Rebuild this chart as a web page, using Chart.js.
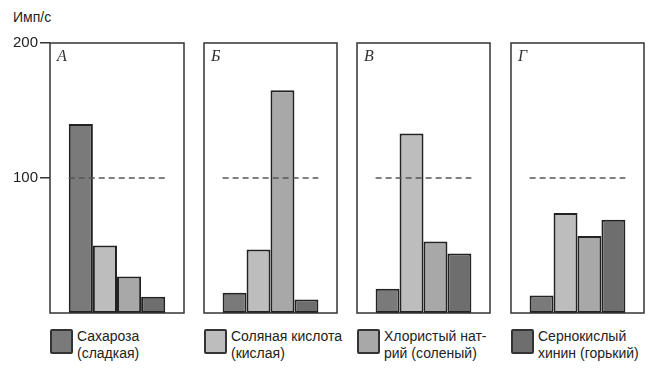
<!DOCTYPE html>
<html>
<head>
<meta charset="utf-8">
<script src="https://cdn.jsdelivr.net/npm/chart.js@4"></script>
<style>
  body { margin: 0; background: #fff; }
  #wrap { position: relative; width: 658px; height: 370px; font-family: 'Liberation Sans', Arial, sans-serif; color: #222; }
  .panel { position: absolute; top: 0; height: 320px; }
  #unit { position: absolute; left: 13px; top: 9px; font-size: 14px; }
  .item { position: absolute; top: 328px; font-size: 14px; line-height: 17px; }
  .sw { position: absolute; left: 0; top: 1px; width: 19px; height: 21px; border: 2px solid #333; border-radius: 2px; }
  .txt { position: absolute; left: 27px; top: 0; white-space: nowrap; }
</style>
</head>
<body>
<div id="wrap">
  <div id="unit">Имп/с</div>
  <div class="panel" style="left:0;width:185px"><canvas id="p0"></canvas></div>
  <div class="panel" style="left:203px;width:135px"><canvas id="p1"></canvas></div>
  <div class="panel" style="left:356px;width:135px"><canvas id="p2"></canvas></div>
  <div class="panel" style="left:510px;width:135px"><canvas id="p3"></canvas></div>
  <div id="legend"></div>
</div>
<script>
// panels (fibres) and stimuli
const panelLabels = ['А', 'Б', 'В', 'Г'];
const stimulusLines = [
    ['Сахароза', '(сладкая)'],
    ['Соляная кислота', '(кислая)'],
    ['Хлористый  нат-', 'рий (соленый)'],
    ['Сернокислый', 'хинин (горький)']
];

// impulses per second, one value per panel
const sucrose = [140, 15, 18, 13];
const hcl = [50, 47, 133, 74];
const nacl = [27, 165, 53, 57];
const quinine = [12, 10, 44, 69];

const yTicks = [100, 200];
const refLevel = 100;

const colors = ['#7a7a7a', '#bdbdbd', '#a8a8a8', '#6e6e6e'];
const legendLeft = [50, 204, 357, 511];

const series = [sucrose, hcl, nacl, quinine];

// box, letter and dashed level line for each panel
const panelPlugin = {
    id: 'panelBox',
    afterDatasetsDraw(chart, args, opts) {
        const { ctx, chartArea: a, scales } = chart;
        const first = chart.getDatasetMeta(0).data[0];
        const last = chart.getDatasetMeta(series.length - 1).data[0];
        const y = scales.y.getPixelForValue(refLevel);

        ctx.save();
        ctx.strokeStyle = '#555';
        ctx.lineWidth = 1.3;
        ctx.setLineDash([6, 4]);
        ctx.beginPath();
        ctx.moveTo(first.x - first.width / 2, y);
        ctx.lineTo(last.x + last.width / 2, y);
        ctx.stroke();

        ctx.setLineDash([]);
        ctx.strokeStyle = '#333';
        ctx.lineWidth = 1.5;
        ctx.strokeRect(a.left, a.top, a.right - a.left, a.bottom - a.top);

        ctx.fillStyle = '#333';
        ctx.font = "italic 16px 'Liberation Serif', serif";
        ctx.textBaseline = 'alphabetic';
        ctx.fillText(opts.letter, a.left + 7, a.top + 18);
        ctx.restore();
    }
};

function createPanel(i) {
    const withAxis = i === 0;
    new Chart(document.getElementById('p' + i), {
        type: 'bar',
        data: {
            labels: [panelLabels[i]],
            datasets: series.map((s, k) => ({
                label: stimulusLines[k].join(' '),
                data: [s[i]],
                backgroundColor: colors[k],
                borderColor: '#222',
                borderWidth: 2,
                borderSkipped: false,
                categoryPercentage: 0.72,
                barPercentage: 1
            }))
        },
        options: {
            responsive: false,
            animation: false,
            maintainAspectRatio: false,
            layout: { padding: { top: 43, bottom: 7, left: withAxis ? 0 : 1, right: 1 } },
            plugins: {
                legend: { display: false },
                tooltip: { enabled: false },
                panelBox: { letter: panelLabels[i] }
            },
            scales: {
                x: { display: false },
                y: {
                    display: withAxis,
                    min: 0,
                    max: 200,
                    afterBuildTicks(scale) {
                        scale.ticks = yTicks.map(v => ({ value: v }));
                    },
                    afterFit(scale) {
                        if (!withAxis) return;
                        scale.width = 50;
                        // keep the plot area the same height as the other panels
                        scale.paddingTop = 0;
                        scale.paddingBottom = 0;
                    },
                    border: { display: false },
                    grid: {
                        drawOnChartArea: false,
                        tickLength: 10,
                        lineWidth: 1.5,
                        color: '#333'
                    },
                    ticks: {
                        padding: 2,
                        color: '#222',
                        font: { family: "'Liberation Sans', Arial, sans-serif", size: 15 }
                    }
                }
            }
        },
        plugins: [panelPlugin]
    });
}

function buildLegend() {
    const box = document.getElementById('legend');
    stimulusLines.forEach((lines, k) => {
        const item = document.createElement('div');
        item.className = 'item';
        item.style.left = legendLeft[k] + 'px';
        const sw = document.createElement('div');
        sw.className = 'sw';
        sw.style.background = colors[k];
        const txt = document.createElement('div');
        txt.className = 'txt';
        txt.innerHTML = lines.join('<br>');
        item.appendChild(sw);
        item.appendChild(txt);
        box.appendChild(item);
    });
}

document.getElementById('p0').width = 185;
document.getElementById('p0').height = 320;
[1, 2, 3].forEach(i => {
    document.getElementById('p' + i).width = 135;
    document.getElementById('p' + i).height = 320;
});

panelLabels.forEach((_, i) => createPanel(i));
buildLegend();
</script>
</body>
</html>
